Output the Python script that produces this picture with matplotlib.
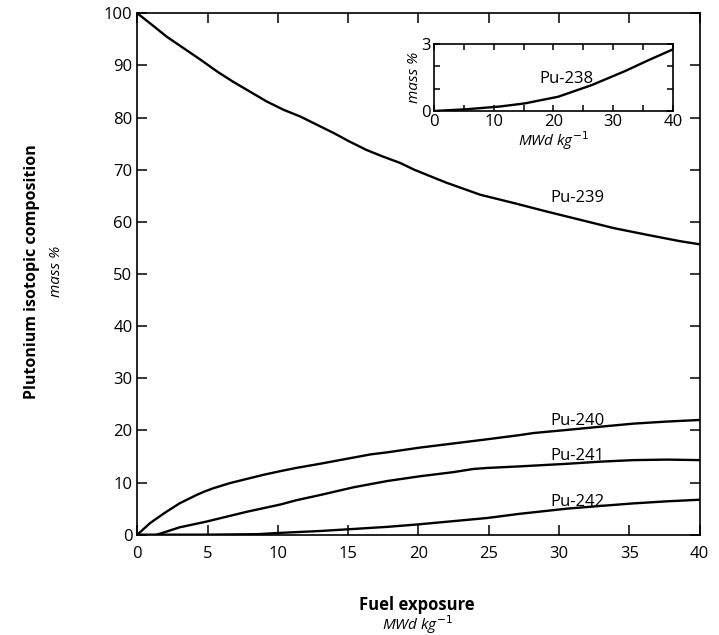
import matplotlib
matplotlib.use('Agg')
from matplotlib import pyplot as plt
from matplotlib.ticker import MultipleLocator, FixedLocator

# burnup (MWd/kg) and mass %
x239 = [0, 0.9, 2.1, 3.3, 4.5, 5.7, 6.8, 8.0, 9.2, 10.4, 11.6, 12.8, 14.0, 15.1,
	16.3, 17.4, 18.7, 19.7, 22.0, 24.4, 26.8, 29.1, 31.5, 33.9, 36.3, 38.6, 40]
pu239 = [100, 98.1, 95.5, 93.3, 91.1, 88.8, 86.9, 85.0, 83.1, 81.5, 80.2, 78.6, 77.0,
	75.4, 73.8, 72.6, 71.3, 70.0, 67.5, 65.2, 63.6, 62.0, 60.4, 58.8, 57.5, 56.3, 55.7]

x240 = [0, 0.9, 1.9, 3.0, 4.2, 4.8, 5.4, 6.6, 7.8, 9.0, 10.2, 11.3, 13.0, 15.4, 16.6,
	17.8, 20.1, 22.5, 24.9, 27.2, 28.2, 30.6, 32.9, 35.3, 37.7, 40]
pu240 = [0, 2.2, 4.1, 6.0, 7.6, 8.3, 8.9, 9.9, 10.7, 11.5, 12.2, 12.8, 13.6, 14.8, 15.4,
	15.8, 16.7, 17.5, 18.3, 19.1, 19.5, 20.1, 20.7, 21.3, 21.7, 22.0]

x241 = [1.4, 3.0, 4.9, 7.8, 10.2, 11.3, 13.0, 15.4, 17.8, 20.1, 22.5, 23.9, 24.9,
	27.2, 30.6, 32.9, 35.3, 37.7, 40]
pu241 = [0, 1.4, 2.5, 4.4, 5.8, 6.6, 7.6, 9.1, 10.3, 11.2, 12.0, 12.6, 12.8,
	13.1, 13.6, 14.0, 14.3, 14.4, 14.3]

x242 = [0, 5, 8.6, 10.2, 13.0, 15.4, 17.8, 20.1, 22.5, 24.9, 27.2, 30.6, 32.9, 35.3, 37.7, 40]
pu242 = [0, 0, 0.1, 0.35, 0.7, 1.1, 1.5, 2.0, 2.6, 3.2, 4.0, 5.0, 5.5, 6.0, 6.4, 6.7]

x238 = [0, 5.5, 11, 15.2, 20.8, 26.4, 32, 36.1, 40]
pu238 = [0, 0.08, 0.2, 0.34, 0.64, 1.16, 1.79, 2.3, 2.76]

font = 'Open Sans'
lw = 1.7


def style_axes(ax):
	for s in ax.spines.values():
		s.set_linewidth(1.2)
	ax.tick_params(which='both', direction='in', top=True, right=True,
		width=1.1, labelsize=12)
	ax.tick_params(which='major', length=7)
	ax.tick_params(which='minor', length=4)


def main():
	matplotlib.rcParams.update({'font.family': font, 'font.size': 12})
	fig = plt.figure(figsize=(7.19, 6.35), dpi=100)
	ax = fig.add_axes([0.191, 0.158, 0.782, 0.821])

	ax.plot(x239, pu239, color='black', lw=lw)
	ax.plot(x240, pu240, color='black', lw=lw)
	ax.plot(x241, pu241, color='black', lw=lw)
	ax.plot(x242, pu242, color='black', lw=lw)

	ax.set_xlim(0, 40)
	ax.set_ylim(0, 100)
	ax.xaxis.set_major_locator(MultipleLocator(5))
	ax.yaxis.set_major_locator(MultipleLocator(10))
	style_axes(ax)
	ax.tick_params(axis='x', pad=8)

	ax.text(31.3, 63.9, 'Pu-239', ha='center', va='baseline', fontsize=12)
	ax.text(31.3, 21.1, 'Pu-240', ha='center', va='baseline', fontsize=12)
	ax.text(31.3, 14.4, 'Pu-241', ha='center', va='baseline', fontsize=12)
	ax.text(31.3, 5.5, 'Pu-242', ha='center', va='baseline', fontsize=12)

	fig.text(0.044, 0.572, 'Plutonium isotopic composition', rotation=90,
		ha='center', va='center', fontsize=11.5, fontweight='bold')
	fig.text(0.079, 0.572, 'mass %', rotation=90, ha='center', va='center',
		fontsize=11, style='italic')
	fig.text(0.58, 0.047, 'Fuel exposure', ha='center', va='center',
		fontsize=12, fontweight='bold')
	fig.text(0.58, 0.016, 'MWd kg$^{-1}$', ha='center', va='center',
		fontsize=11, style='italic')

	ins = fig.add_axes([0.6036, 0.8252, 0.3324, 0.1055])
	ins.plot(x238, pu238, color='black', lw=lw)
	ins.set_xlim(0, 40)
	ins.set_ylim(0, 3)
	ins.xaxis.set_major_locator(MultipleLocator(10))
	ins.xaxis.set_minor_locator(MultipleLocator(5))
	ins.yaxis.set_major_locator(FixedLocator([0, 3]))
	ins.yaxis.set_minor_locator(FixedLocator([1, 2]))
	style_axes(ins)
	ins.tick_params(which='both', length=4)
	ins.tick_params(axis='both', pad=2)
	ins.text(22.2, 1.24, 'Pu-238', ha='center', va='baseline', fontsize=12)
	ins.set_xlabel('MWd kg$^{-1}$', style='italic', fontsize=11, labelpad=0)
	ins.set_ylabel('mass %', style='italic', fontsize=11, labelpad=0)

	plt.savefig('out.png', dpi=100)
	plt.clf()


if __name__ == "__main__":
	main()
